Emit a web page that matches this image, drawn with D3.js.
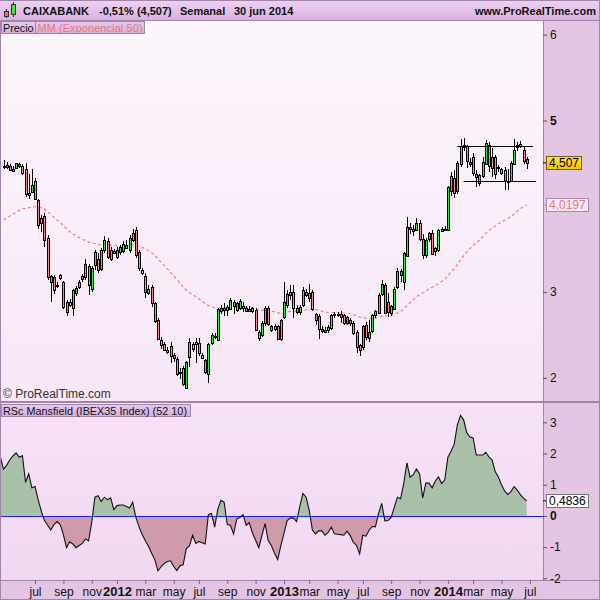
<!DOCTYPE html>
<html>
<head>
<meta charset="utf-8">
<script src="https://cdn.jsdelivr.net/npm/d3@7"></script>
<style>
  body { margin: 0; background: #fff; }
  svg { display: block; font-family: "Liberation Sans", Arial, sans-serif; }
</style>
</head>
<body>
<div id="chart"></div>
<script>
// weekly bars, CAIXABANK, first bar week of 25 apr 2011, last 30 jun 2014
var firstWeek = new Date(2011, 3, 25);

var opens = [
  4.47,4.48,4.47,4.42,4.44,4.49,4.47,4.44,4.15,4.17,
  4.30,4.07,3.80,3.89,3.63,3.19,3.18,3.08,3.20,3.12,
  2.77,2.89,2.81,2.99,3.06,3.19,3.18,3.30,3.04,3.32,
  3.39,3.27,3.49,3.60,3.38,3.48,3.49,3.47,3.48,3.51,
  3.49,3.61,3.72,3.47,3.26,3.19,2.99,3.06,2.87,2.68,
  2.44,2.40,2.33,2.37,2.27,2.22,2.07,2.11,1.89,2.42,
  2.34,2.40,2.41,2.27,2.21,2.05,2.41,2.48,2.44,2.78,
  2.82,2.80,2.81,2.88,2.87,2.82,2.84,2.82,2.80,2.78,
  2.79,2.54,2.50,2.64,2.82,2.56,2.60,2.60,2.45,2.71,
  2.85,3.00,3.00,2.82,2.77,2.85,3.00,2.93,3.00,2.74,
  2.72,2.57,2.56,2.56,2.58,2.73,2.74,2.71,2.73,2.64,
  2.68,2.64,2.54,2.38,2.35,2.62,2.47,2.54,2.73,2.76,
  2.97,3.08,2.88,2.76,2.81,3.06,3.25,3.12,3.42,3.76,
  3.74,3.73,3.81,3.62,3.43,3.62,3.69,3.47,3.49,3.72,
  3.74,3.72,4.17,4.33,4.17,4.49,4.71,4.70,4.52,4.57,
  4.38,4.27,4.36,4.50,4.72,4.57,4.57,4.45,4.43,4.42,
  4.30,4.30,4.50,4.70,4.71,4.66,4.55
];
var highs = [
  4.54,4.52,4.49,4.47,4.51,4.51,4.49,4.50,4.38,4.44,
  4.33,4.08,3.90,3.92,3.66,3.20,3.20,3.12,3.21,3.13,
  2.91,2.92,3.04,3.07,3.14,3.21,3.39,3.33,3.31,3.49,
  3.45,3.51,3.65,3.63,3.52,3.50,3.52,3.55,3.60,3.61,
  3.66,3.74,3.76,3.49,3.28,3.22,3.08,3.08,2.88,2.70,
  2.48,2.42,2.36,2.42,2.29,2.24,2.12,2.14,2.20,2.46,
  2.42,2.46,2.47,2.29,2.22,2.41,2.52,2.52,2.82,2.85,
  2.87,2.85,2.93,2.91,2.89,2.92,2.88,2.84,2.84,2.83,
  2.81,2.56,2.66,2.84,2.84,2.62,2.63,2.62,2.69,3.12,
  3.02,3.08,3.08,2.85,2.85,3.06,3.04,3.10,3.02,2.76,
  2.74,2.60,2.59,2.62,2.74,2.77,2.77,2.78,2.75,2.72,
  2.70,2.66,2.56,2.40,2.62,2.65,2.67,2.75,2.79,2.99,
  3.14,3.11,2.99,2.85,3.06,3.28,3.27,3.47,3.87,3.80,
  3.78,3.86,3.84,3.68,3.63,3.70,3.72,3.52,3.74,3.76,
  3.77,4.24,4.40,4.42,4.53,4.79,4.80,4.72,4.56,4.62,
  4.42,4.38,4.58,4.77,4.75,4.68,4.60,4.48,4.45,4.46,
  4.43,4.53,4.79,4.75,4.76,4.70,4.58
];
var lows = [
  4.44,4.44,4.41,4.40,4.43,4.45,4.37,4.11,4.09,4.15,
  4.07,3.74,3.70,3.53,3.14,2.89,2.98,3.05,3.14,2.80,
  2.72,2.83,2.72,2.96,3.04,3.12,3.14,2.97,3.00,3.26,
  3.22,3.25,3.45,3.39,3.36,3.44,3.38,3.43,3.45,3.50,
  3.46,3.58,3.40,3.25,3.20,2.93,2.97,2.83,2.64,2.44,
  2.34,2.31,2.28,2.17,2.18,2.02,1.99,1.90,1.87,2.13,
  2.30,2.17,2.26,2.22,2.05,1.94,2.38,2.45,2.43,2.75,
  2.72,2.72,2.79,2.75,2.77,2.79,2.77,2.78,2.77,2.76,
  2.55,2.43,2.48,2.60,2.60,2.53,2.55,2.44,2.43,2.69,
  2.82,2.91,2.70,2.75,2.73,2.83,2.94,2.88,2.78,2.62,
  2.45,2.52,2.52,2.52,2.56,2.70,2.71,2.64,2.62,2.62,
  2.60,2.50,2.29,2.26,2.33,2.44,2.42,2.52,2.70,2.74,
  2.95,2.74,2.71,2.72,2.79,3.04,3.12,3.03,3.41,3.68,
  3.65,3.71,3.60,3.38,3.40,3.58,3.43,3.42,3.47,3.70,
  3.71,3.71,4.12,4.10,4.14,4.46,4.64,4.45,4.46,4.35,
  4.23,4.24,4.33,4.48,4.40,4.34,4.32,4.40,4.36,4.19,
  4.19,4.28,4.48,4.64,4.68,4.49,4.43
];
var closes = [
  4.47,4.46,4.42,4.44,4.50,4.47,4.39,4.15,4.13,4.25,
  4.09,3.78,3.86,3.61,3.18,3.12,3.03,3.08,3.16,2.83,
  2.89,2.85,3.02,3.05,3.12,3.15,3.33,3.08,3.28,3.47,
  3.26,3.49,3.61,3.41,3.49,3.46,3.41,3.53,3.56,3.55,
  3.63,3.69,3.43,3.28,3.22,3.00,3.04,2.87,2.66,2.46,
  2.38,2.33,2.31,2.25,2.23,2.05,2.07,1.92,2.19,2.25,
  2.40,2.42,2.29,2.23,2.07,2.40,2.50,2.49,2.80,2.82,
  2.80,2.83,2.91,2.83,2.79,2.90,2.82,2.79,2.78,2.81,
  2.56,2.47,2.64,2.82,2.63,2.61,2.56,2.45,2.67,2.89,
  2.98,2.96,2.81,2.77,2.83,3.02,2.96,2.99,2.80,2.67,
  2.57,2.55,2.54,2.59,2.73,2.74,2.73,2.75,2.64,2.71,
  2.64,2.52,2.36,2.32,2.60,2.48,2.54,2.73,2.78,2.97,
  3.09,2.75,2.76,2.84,3.04,3.25,3.20,3.46,3.76,3.74,
  3.72,3.81,3.62,3.43,3.61,3.69,3.45,3.51,3.72,3.74,
  3.73,4.22,4.35,4.16,4.50,4.70,4.69,4.52,4.50,4.38,
  4.35,4.36,4.52,4.74,4.48,4.44,4.37,4.46,4.38,4.30,
  4.29,4.51,4.66,4.72,4.73,4.53,4.507
];
// RSc Mansfield vs IBEX35 (52 10), one value per week
var mansfield = [
  1.50,1.62,1.80,1.92,2.02,1.88,1.93,1.08,1.35,0.90,
  0.94,0.52,0.15,-0.15,-0.30,-0.45,-0.28,-0.18,-0.28,-0.60,
  -1.02,-0.83,-0.90,-1.02,-0.95,-0.88,-0.74,-0.80,-0.20,0.60,
  0.65,0.46,0.60,0.52,0.58,0.20,0.33,0.35,0.35,0.30,
  0.25,0.44,-0.05,-0.35,-0.60,-0.80,-0.97,-1.20,-1.40,-1.76,
  -1.63,-1.52,-1.46,-1.44,-1.62,-1.75,-1.60,-1.57,-1.05,-0.96,
  -0.62,-0.88,-0.82,-0.86,-0.90,0.04,0.08,-0.36,0.22,0.50,
  0.44,-0.28,-0.30,-0.58,-0.10,-0.05,0.04,-0.30,-0.22,-0.55,
  -0.78,-1.02,-0.62,-0.25,-0.80,-0.95,-1.20,-1.40,-0.95,-0.55,
  -0.15,-0.07,-0.07,-0.18,0.30,0.72,0.60,0.18,-0.45,-0.58,
  -0.48,-0.48,-0.62,-0.53,-0.36,-0.57,-0.59,-0.60,-0.62,-0.49,
  -0.63,-0.85,-0.94,-1.22,-0.62,-0.65,-0.46,-0.34,-0.35,0.08,
  0.40,-0.16,-0.15,-0.05,0.28,0.60,0.55,1.05,1.70,1.24,
  1.32,1.50,1.35,0.58,1.05,1.05,0.90,1.12,1.25,1.04,
  1.15,1.88,2.07,2.30,2.92,3.22,3.08,2.66,2.53,2.50,
  1.95,1.95,1.95,2.04,1.89,1.80,1.42,1.25,1.00,0.80,
  0.69,0.78,0.94,0.83,0.68,0.56,0.4836
];
var mansfieldPrev = 1.89;     // value of the week just left of the first bar
var emaStart = 3.84;          // MM (Exponencial 50) value at first bar
var emaLabel = "4,0197";
var lastLabel = "4,507";
var mansLabel = "0,4836";
var priceTicks = [2, 3, 5, 6];
var mansTicks = [-2, -1, 0, 1, 2, 3];
var monthNames = ["ene","feb","mar","abr","may","jun","jul","ago","sep","oct","nov","dic"];
// drawn support / resistance lines
var levels = [
  { value: 4.70, from: new Date(2014, 0, 27), to: new Date(2014, 6, 14) },
  { value: 4.30, from: new Date(2014, 1, 10), to: new Date(2014, 6, 21) }
];

var W = 600, H = 600;
var plotL = 1, plotR = 543;
var priceT = 20, priceB = 401;
var mansT = 403, mansB = 580;

var dates = closes.map(function(d, i) { return d3.timeWeek.offset(firstWeek, i); });

var x = d3.scaleTime()
  .domain([dates[0], dates[dates.length - 1]])
  .range([3.5, 526.7]);

var y = d3.scaleLinear().domain([2, 6]).range([377.9, 34.7]);
var ym = d3.scaleLinear().domain([-2, 3]).range([578.3, 422.3]);

// EMA 50
var k = 2 / 51;
var ema = [];
closes.forEach(function(c, i) {
  ema.push(i === 0 ? emaStart : ema[i - 1] + k * (c - ema[i - 1]));
});

var svg = d3.select("#chart").append("svg")
  .attr("width", W).attr("height", H);
var defs = svg.append("defs");

function vgrad(id, c1, c2) {
  var g = defs.append("linearGradient").attr("id", id)
    .attr("x1", 0).attr("y1", 0).attr("x2", 0).attr("y2", 1);
  g.append("stop").attr("offset", "0%").attr("stop-color", c1);
  g.append("stop").attr("offset", "100%").attr("stop-color", c2);
}
vgrad("hdr", "#edd3f1", "#dab1e2");
vgrad("pricebg", "#fcf5fc", "#f7e7f7");
vgrad("mansbg", "#f6e3f6", "#f1d8f1");
vgrad("legend", "#e6c9ec", "#d6aede");
vgrad("gold", "#ffe24a", "#efc400");

// backgrounds
svg.append("rect").attr("width", W).attr("height", H).attr("fill", "#e3c5e3");
svg.append("rect").attr("x", 0).attr("y", 0).attr("width", W).attr("height", priceT)
  .attr("fill", "url(#hdr)");
svg.append("rect").attr("x", plotL).attr("y", priceT).attr("width", plotR - plotL)
  .attr("height", priceB - priceT).attr("fill", "url(#pricebg)");
svg.append("rect").attr("x", plotL).attr("y", mansT).attr("width", plotR - plotL)
  .attr("height", mansB - mansT).attr("fill", "url(#mansbg)");

var border = "#a283aa";
svg.append("g").attr("stroke", border).attr("shape-rendering", "crispEdges")
  .selectAll("line")
  .data([
    [0, priceT + 0.5, W, priceT + 0.5],
    [0, priceB + 0.5, W, priceB + 0.5],
    [0, mansT - 0.5, W, mansT - 0.5],
    [0, mansB + 0.5, W, mansB + 0.5],
    [plotR + 0.5, priceT, plotR + 0.5, mansB],
    [0.5, priceT, 0.5, H],
    [W - 0.5, 0, W - 0.5, H],
    [0, H - 0.5, W, H - 0.5],
    [0, 0.5, W, 0.5]
  ])
  .enter().append("line")
  .attr("x1", function(d) { return d[0]; }).attr("y1", function(d) { return d[1]; })
  .attr("x2", function(d) { return d[2]; }).attr("y2", function(d) { return d[3]; });

defs.append("clipPath").attr("id", "clipPrice").append("rect")
  .attr("x", plotL).attr("y", priceT + 1).attr("width", plotR - plotL).attr("height", priceB - priceT - 1);

// ---- price panel ----
var price = svg.append("g").attr("clip-path", "url(#clipPrice)");

price.append("path")
  .datum(ema)
  .attr("fill", "none")
  .attr("stroke", "#ea7f7f")
  .attr("stroke-width", 1.2)
  .attr("stroke-dasharray", "3,2.5")
  .attr("d", d3.line().x(function(d, i) { return x(dates[i]); }).y(function(d) { return y(d); }));

var candles = price.append("g").attr("shape-rendering", "crispEdges");
var bar = candles.selectAll("g").data(closes).enter().append("g");
bar.append("line")
  .attr("x1", function(d, i) { return Math.round(x(dates[i])) + 0.5; })
  .attr("x2", function(d, i) { return Math.round(x(dates[i])) + 0.5; })
  .attr("y1", function(d, i) { return y(highs[i]); })
  .attr("y2", function(d, i) { return y(lows[i]); })
  .attr("stroke", "#000");
bar.append("rect")
  .attr("x", function(d, i) { return Math.round(x(dates[i])) - 0.5; })
  .attr("width", 2)
  .attr("y", function(d, i) { return Math.round(y(Math.max(opens[i], d))) + 0.5; })
  .attr("height", function(d, i) { return Math.max(1, Math.round(Math.abs(y(opens[i]) - y(d)))); })
  .attr("fill", function(d, i) { return d >= opens[i] ? "#3fe23f" : "#f28a8a"; })
  .attr("stroke", "#000");

price.append("g").selectAll("line").data(levels).enter().append("line")
  .attr("x1", function(d) { return x(d.from); })
  .attr("x2", function(d) { return x(d.to); })
  .attr("y1", function(d) { return Math.round(y(d.value)) + 0.5; })
  .attr("y2", function(d) { return Math.round(y(d.value)) + 0.5; })
  .attr("stroke", "#000").attr("stroke-width", 1);

// price axis
var pAxis = svg.append("g").attr("transform", "translate(" + plotR + ",0)")
  .call(d3.axisRight(y).tickValues(priceTicks).tickSize(4).tickPadding(3)
    .tickFormat(function(d) { return d; }));
pAxis.select(".domain").remove();
pAxis.selectAll("line").attr("stroke", "#555");
pAxis.selectAll("text").attr("font-size", 12).attr("fill", "#111")
  .attr("font-family", "Liberation Sans, Arial, sans-serif")
  .attr("font-weight", function(d) { return d === 5 ? "bold" : "normal"; });

function valueBox(val, label, yScale, fill, stroke, color) {
  var yy = yScale(val);
  svg.append("line").attr("x1", plotR).attr("x2", plotR + 4)
    .attr("y1", yy).attr("y2", yy).attr("stroke", color === "#000" ? "#000" : color);
  var t = svg.append("text").attr("x", plotR + 6).attr("y", yy).attr("dy", "0.36em")
    .attr("font-size", 12).attr("fill", color).text(label);
  var w = t.node().getComputedTextLength();
  svg.insert("rect", function() { return t.node(); })
    .attr("x", plotR + 3.5).attr("y", Math.round(yy) - 6.5)
    .attr("width", Math.round(w) + 5).attr("height", 13)
    .attr("fill", fill).attr("stroke", stroke);
}
valueBox(closes[closes.length - 1], lastLabel, y, "url(#gold)", "#7a5c00", "#000");
valueBox(ema[ema.length - 1], emaLabel, y, "#f8eaf8", "#a889b0", "#e87878");

// ---- Mansfield panel ----
var y0 = Math.round(ym(0));
defs.append("clipPath").attr("id", "clipUp").append("rect")
  .attr("x", plotL).attr("y", mansT).attr("width", plotR - plotL).attr("height", y0 - mansT);
defs.append("clipPath").attr("id", "clipDown").append("rect")
  .attr("x", plotL).attr("y", y0).attr("width", plotR - plotL).attr("height", mansB - y0);
defs.append("clipPath").attr("id", "clipMans").append("rect")
  .attr("x", plotL).attr("y", mansT).attr("width", plotR - plotL).attr("height", mansB - mansT);

// include the week before the first bar so the line enters from the left edge
var mansPts = [[d3.timeWeek.offset(firstWeek, -1), mansfieldPrev]]
  .concat(mansfield.map(function(v, i) { return [dates[i], v]; }));

var area = d3.area()
  .x(function(d) { return x(d[0]); })
  .y0(ym(0))
  .y1(function(d) { return ym(d[1]); });
var mans = svg.append("g").attr("clip-path", "url(#clipMans)");
mans.append("path").datum(mansPts).attr("clip-path", "url(#clipUp)")
  .attr("fill", "#a9c1a8").attr("d", area);
mans.append("path").datum(mansPts).attr("clip-path", "url(#clipDown)")
  .attr("fill", "#cf9aa9").attr("d", area);
mans.append("line").attr("x1", plotL).attr("x2", plotR)
  .attr("y1", y0 + 0.5).attr("y2", y0 + 0.5)
  .attr("stroke", "#1f1ff0").attr("stroke-width", 1).attr("shape-rendering", "crispEdges");
mans.append("path").datum(mansPts)
  .attr("fill", "none").attr("stroke", "#111").attr("stroke-width", 1.1)
  .attr("d", d3.line().x(function(d) { return x(d[0]); }).y(function(d) { return ym(d[1]); }));

var mAxis = svg.append("g").attr("transform", "translate(" + plotR + ",0)")
  .call(d3.axisRight(ym).tickValues(mansTicks).tickSize(4).tickPadding(3)
    .tickFormat(function(d) { return d; }));
mAxis.select(".domain").remove();
mAxis.selectAll("line").attr("stroke", "#555");
mAxis.selectAll("text").attr("font-size", 12).attr("fill", "#111")
  .attr("font-family", "Liberation Sans, Arial, sans-serif")
  .attr("font-weight", function(d) { return d === 0 ? "bold" : "normal"; });
valueBox(mansfield[mansfield.length - 1], mansLabel, ym, "#fff", "#777", "#000");

// ---- time axis ----
var monthStarts = d3.timeMonth.every(2).range(new Date(2011, 6, 1), new Date(2014, 6, 2));
var tickDates = monthStarts.map(function(m) { return d3.timeMonday.ceil(m); });
var xAxis = svg.append("g").attr("transform", "translate(0," + mansB + ")")
  .call(d3.axisBottom(x).tickValues(tickDates).tickSize(4).tickPadding(3)
    .tickFormat(function(d, i) {
      var m = monthStarts[i];
      return m.getMonth() === 0 ? m.getFullYear() : monthNames[m.getMonth()];
    }));
xAxis.select(".domain").remove();
xAxis.selectAll("line").attr("stroke", "#806088");
xAxis.selectAll("text").attr("fill", "#111")
  .attr("font-family", "Liberation Sans, Arial, sans-serif")
  .attr("font-weight", function(d, i) { return monthStarts[i].getMonth() === 0 ? "bold" : "normal"; })
  .attr("font-size", function(d, i) { return monthStarts[i].getMonth() === 0 ? 13 : 12; });

// ---- header ----
var icon = svg.append("g").attr("shape-rendering", "crispEdges");
icon.append("line").attr("x1", 6.5).attr("x2", 6.5).attr("y1", 9).attr("y2", 18).attr("stroke", "#333");
icon.append("rect").attr("x", 4.5).attr("y", 11.5).attr("width", 4).attr("height", 5)
  .attr("fill", "#f07070").attr("stroke", "#333");
icon.append("line").attr("x1", 13.5).attr("x2", 13.5).attr("y1", 2).attr("y2", 17).attr("stroke", "#333");
icon.append("rect").attr("x", 11.5).attr("y", 4.5).attr("width", 4).attr("height", 10)
  .attr("fill", "#3fe23f").attr("stroke", "#333");

var hdr = svg.append("g").attr("font-size", 11).attr("font-weight", "bold").attr("fill", "#111");
hdr.append("text").attr("x", 23).attr("y", 15).text("CAIXABANK");
hdr.append("text").attr("x", 99).attr("y", 15).text("-0,51% (4,507)");
hdr.append("text").attr("x", 180).attr("y", 15).text("Semanal");
hdr.append("text").attr("x", 234).attr("y", 15).text("30 jun 2014");
hdr.append("text").attr("x", 596).attr("y", 15).attr("text-anchor", "end").text("www.ProRealTime.com");

// legends
svg.append("rect").attr("x", 1.5).attr("y", 21.5).attr("width", 143).attr("height", 12)
  .attr("fill", "url(#legend)").attr("stroke", "#a283aa");
svg.append("line").attr("x1", 35.5).attr("x2", 35.5).attr("y1", 21.5).attr("y2", 33.5).attr("stroke", "#a283aa");
svg.append("text").attr("x", 3).attr("y", 31.5).attr("font-size", 10.8).attr("fill", "#111").text("Precio");
svg.append("text").attr("x", 37.5).attr("y", 31.5).attr("font-size", 10.8).attr("fill", "#e87878")
  .attr("textLength", 105).text("MM (Exponencial 50)");

svg.append("text").attr("x", 3).attr("y", 398).attr("font-size", 12).attr("fill", "#333").text("© ProRealTime.com");

svg.append("rect").attr("x", 1.5).attr("y", 404.5).attr("width", 189).attr("height", 12)
  .attr("fill", "url(#legend)").attr("stroke", "#a283aa");
svg.append("text").attr("x", 3).attr("y", 414.5).attr("font-size", 10.8).attr("fill", "#111")
  .attr("textLength", 184).text("RSc Mansfield (IBEX35 Index) (52 10)");
</script>
</body>
</html>
